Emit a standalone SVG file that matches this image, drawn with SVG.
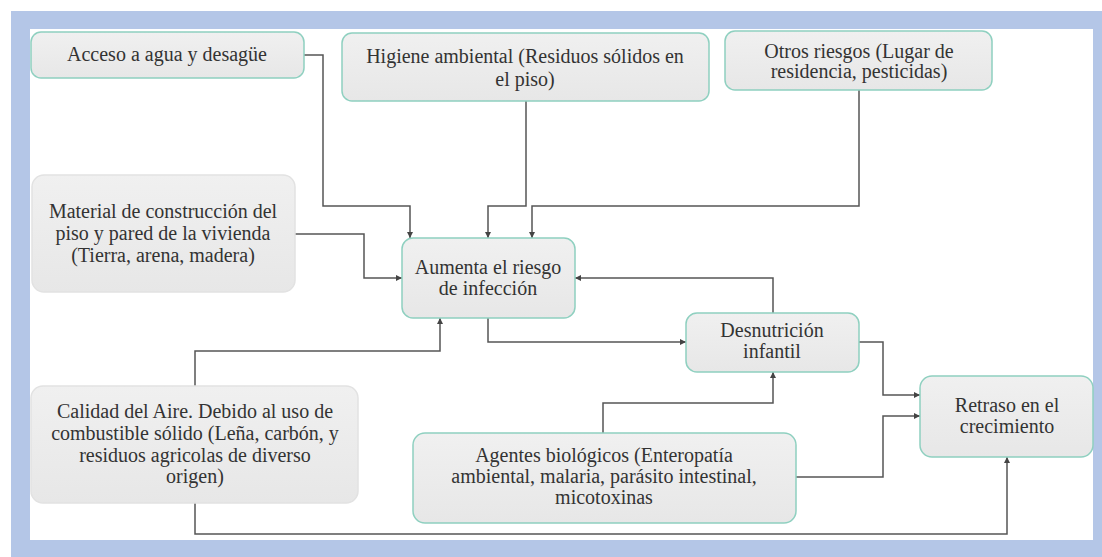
<svg xmlns="http://www.w3.org/2000/svg" width="1102" height="557" viewBox="0 0 1102 557">
<style>
.box{fill:url(#g);stroke:#8fd0c0;stroke-width:1.5}
.boxg{fill:url(#g);stroke:#e2e2e2;stroke-width:1.5}
text{font-family:'Liberation Serif','Times New Roman','DejaVu Serif',serif;font-size:20px;fill:#333;text-anchor:middle}
.c{fill:none;stroke:#555;stroke-width:1.5}
.ca{fill:none;stroke:#555;stroke-width:1.5;marker-end:url(#ah)}
</style>
<defs>
<linearGradient id="g" x1="0" y1="0" x2="0" y2="1">
<stop offset="0" stop-color="#f0f0f0"/>
<stop offset="1" stop-color="#e7e7e7"/>
</linearGradient>
<marker id="ah" viewBox="0 0 10 10" refX="10" refY="5" markerWidth="6" markerHeight="6" markerUnits="userSpaceOnUse" orient="auto">
<path d="M0,0 L10,5 L0,10 z" fill="#444"/>
</marker>
</defs>
<rect x="0" y="0" width="1102" height="557" fill="#ffffff"/>
<rect x="11" y="11" width="1091" height="546" fill="#b4c6e7"/>
<rect x="30" y="29" width="1063" height="511" fill="#ffffff"/>

<g id="connectors">
<path class="ca" d="M304,55 H323 V206 H410 V238"/>
<path class="ca" d="M526,101 V206 H488 V238"/>
<path class="ca" d="M859,90 V206 H532 V238"/>
<path class="ca" d="M295,234 H364 V278 H402"/>
<path class="ca" d="M195,386 V351 H440 V318"/>
<path class="ca" d="M195,503 V534 H1007 V457"/>
<path class="ca" d="M488,318 V342 H686"/>
<path class="ca" d="M773,313 V278 H575"/>
<path class="ca" d="M603,433 V403 H773 V372"/>
<path class="ca" d="M859,342 H883 V395 H920"/>
<path class="ca" d="M796,477 H883 V416 H920"/>
</g>

<g id="acceso">
<rect class="box" x="31" y="32" width="273" height="46" rx="10"/>
<text x="167" y="61">Acceso a agua y desagüe</text>
</g>
<g id="higiene">
<rect class="box" x="342" y="33" width="367" height="68" rx="10"/>
<text x="525" y="63">Higiene ambiental (Residuos sólidos en</text>
<text x="525" y="86">el piso)</text>
</g>
<g id="otros">
<rect class="box" x="725" y="31" width="267" height="59" rx="10"/>
<text x="859" y="58">Otros riesgos (Lugar de</text>
<text x="859" y="78">residencia, pesticidas)</text>
</g>
<g id="material">
<rect class="boxg" x="32" y="175" width="263" height="117" rx="12"/>
<text x="163" y="218">Material de construcción del</text>
<text x="163" y="240">piso y pared de la vivienda</text>
<text x="163" y="262">(Tierra, arena, madera)</text>
</g>
<g id="aumenta">
<rect class="box" x="402" y="238" width="173" height="80" rx="11"/>
<text x="488" y="274">Aumenta el riesgo</text>
<text x="488" y="295">de infección</text>
</g>
<g id="desnutricion">
<rect class="box" x="686" y="313" width="173" height="59" rx="11"/>
<text x="772" y="337">Desnutrición</text>
<text x="772" y="358">infantil</text>
</g>
<g id="retraso">
<rect class="box" x="920" y="376" width="173" height="81" rx="12"/>
<text x="1007" y="412">Retraso en el</text>
<text x="1007" y="433">crecimiento</text>
</g>
<g id="calidad">
<rect class="boxg" x="31" y="386" width="327" height="117" rx="12"/>
<text x="195" y="418">Calidad del Aire. Debido al uso de</text>
<text x="195" y="440">combustible sólido (Leña, carbón, y</text>
<text x="195" y="462">residuos agricolas de diverso</text>
<text x="195" y="483">origen)</text>
</g>
<g id="agentes">
<rect class="box" x="413" y="433" width="383" height="90" rx="12"/>
<text x="604" y="462">Agentes biológicos (Enteropatía</text>
<text x="604" y="483">ambiental, malaria, parásito intestinal,</text>
<text x="604" y="504">micotoxinas</text>
</g>
</svg>
